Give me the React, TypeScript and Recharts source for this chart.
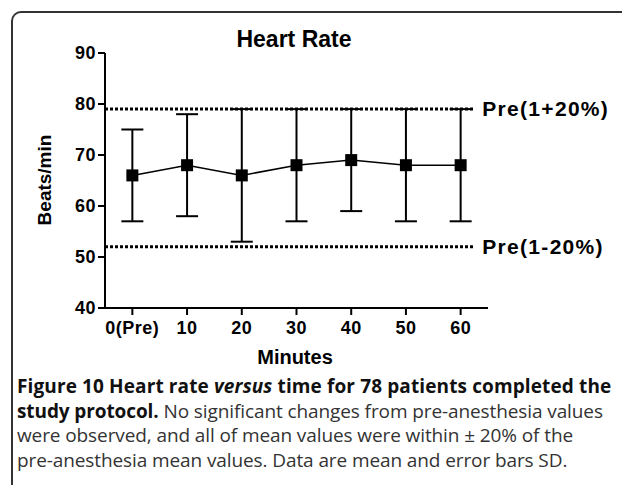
import React from "react";
import {
  ComposedChart, Line, XAxis, YAxis, ErrorBar, ReferenceLine
} from "recharts";

const minutes = [0, 10, 20, 30, 40, 50, 60];
const tickLabels = ["0(Pre)", "10", "20", "30", "40", "50", "60"];
const means = [66, 68, 66, 68, 69, 68, 68];
const sdLow = [57, 58, 53, 57, 59, 57, 57];
const sdHigh = [75, 78, 79, 79, 79, 79, 79];
const upperLimit = 79;
const lowerLimit = 52;

const data = minutes.map((m, i) => ({
  minute: m,
  mean: means[i],
  err: [means[i] - sdLow[i], sdHigh[i] - means[i]],
}));

const axisFont = "'Liberation Sans', Arial, sans-serif";
const tickStyle = { fill: "#000", fontSize: 18, fontWeight: 700, fontFamily: axisFont, letterSpacing: 0.5 };

const SquareDot = (props: any) => {
  const { cx, cy } = props;
  if (cx == null || cy == null) return null;
  return <rect x={cx - 6} y={cy - 6} width={12} height={12} fill="#000" />;
};

const limitLabel = (text: string) => (props: any) => {
  const vb = props.viewBox;
  return (
    <text
      x={vb.x + vb.width + 8}
      y={vb.y + 7}
      fill="#000"
      fontSize={21}
      fontWeight={700}
      fontFamily={axisFont}
      letterSpacing={1.3}
    >
      {text}
    </text>
  );
};

export default function App() {
  return (
    <div style={{ position: "absolute", left: 0, top: 0, width: 622, height: 485, overflow: "hidden", background: "#fff" }}>
      <div
        style={{
          position: "absolute", left: 11, top: 11, width: 700, height: 520,
          borderLeft: "2px solid #333", borderTop: "2px solid #333", borderTopLeftRadius: 10,
        }}
      />
      <div style={{ position: "absolute", left: 0, top: 0 }}>
        <ComposedChart width={622} height={370} data={data} margin={{ top: 53, right: 134, bottom: 32, left: 45 }}>
          <XAxis
            dataKey="minute"
            type="number"
            domain={[-5, 65]}
            ticks={minutes}
            tickFormatter={(v: number) => tickLabels[minutes.indexOf(v)]}
            stroke="#000"
            strokeWidth={2}
            tickSize={7}
            tick={{ ...tickStyle, dy: 4 }}
            height={30}
          />
          <YAxis
            type="number"
            domain={[40, 90]}
            ticks={[40, 50, 60, 70, 80, 90]}
            stroke="#000"
            strokeWidth={2}
            tickSize={7}
            tick={tickStyle}
            width={60}
          />
          <ReferenceLine
            segment={[{ x: -5, y: upperLimit }, { x: 62.5, y: upperLimit }]}
            stroke="#000"
            strokeWidth={3}
            strokeDasharray="3 2"
            label={limitLabel("Pre(1+20%)")}
          />
          <ReferenceLine
            segment={[{ x: -5, y: lowerLimit }, { x: 62.5, y: lowerLimit }]}
            stroke="#000"
            strokeWidth={3}
            strokeDasharray="3 2"
            label={limitLabel("Pre(1-20%)")}
          />
          <Line
            dataKey="mean"
            stroke="#000"
            strokeWidth={1.5}
            dot={<SquareDot />}
            activeDot={false}
            isAnimationActive={false}
          >
            <ErrorBar dataKey="err" width={11} stroke="#000" strokeWidth={2} isAnimationActive={false} />
          </Line>
        </ComposedChart>
      </div>
      <div style={{ position: "absolute", left: 194, width: 200, top: 26, textAlign: "center", fontFamily: axisFont, fontWeight: 700, fontSize: 23, color: "#000" }}>
        Heart Rate
      </div>
      <div style={{ position: "absolute", left: 195, width: 200, top: 346, textAlign: "center", fontFamily: axisFont, fontWeight: 700, fontSize: 20, color: "#000" }}>
        Minutes
      </div>
      <div
        style={{
          position: "absolute", left: 45, top: 180, width: 140, marginLeft: -70, marginTop: -12, textAlign: "center",
          transform: "rotate(-90deg)", fontFamily: axisFont, fontWeight: 700, fontSize: 19, color: "#000", lineHeight: "24px",
        }}
      >
        Beats/min
      </div>
      <div
        style={{
          position: "absolute", left: 17, top: 374, width: 610, fontFamily: "'Open Sans', 'Noto Sans', sans-serif",
          fontSize: 19, lineHeight: "24.7px", color: "#333", whiteSpace: "nowrap", letterSpacing: -0.1,
        }}
      >
        <div><b style={{ color: "#111", letterSpacing: 0.12 }}>Figure 10 Heart rate <i>versus</i> time for 78 patients completed the</b></div>
        <div><b style={{ color: "#111" }}>study protocol.</b> No significant changes from pre-anesthesia values</div>
        <div>were observed, and all of mean values were within ± 20% of the</div>
        <div>pre-anesthesia mean values. Data are mean and error bars SD.</div>
      </div>
    </div>
  );
}
